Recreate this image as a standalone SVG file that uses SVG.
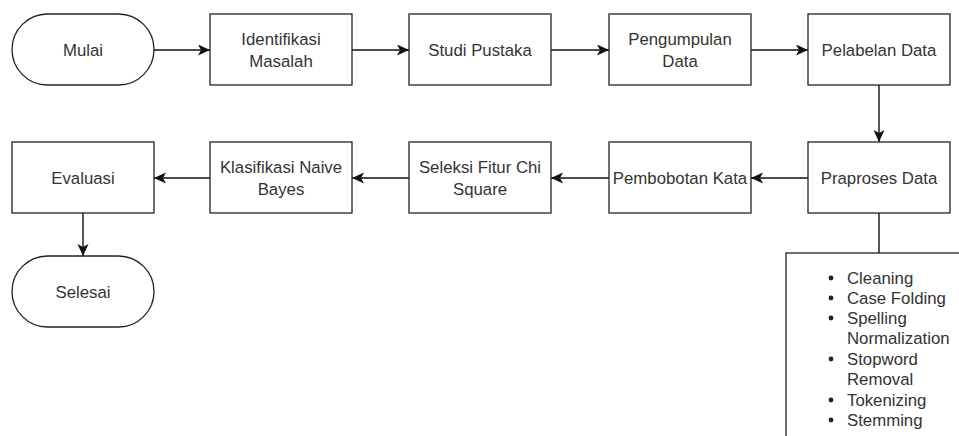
<svg xmlns="http://www.w3.org/2000/svg" width="959" height="436" viewBox="0 0 959 436">
<style>
.box{fill:#fff;stroke:#222;stroke-width:1.3}
.lbl{font-family:"Liberation Sans",Arial,sans-serif;font-size:16.8px;fill:#333;text-anchor:middle}
.li{font-family:"Liberation Sans",Arial,sans-serif;font-size:16.8px;fill:#333}
.con{fill:none;stroke:#111;stroke-width:1.4}
</style>
<defs>
<marker id="arr" markerUnits="userSpaceOnUse" markerWidth="13" markerHeight="12" refX="12" refY="5.5" orient="auto">
<path d="M0,0 L12,5.5 L0,11 L3,5.5 Z" fill="#111"/>
</marker>
</defs>
<rect width="959" height="436" fill="#fff"/>
<g id="connectors">
<line class="con" x1="154" y1="50" x2="210" y2="50" marker-end="url(#arr)"/>
<line class="con" x1="352" y1="50" x2="409" y2="50" marker-end="url(#arr)"/>
<line class="con" x1="551" y1="50" x2="609" y2="50" marker-end="url(#arr)"/>
<line class="con" x1="751" y1="50" x2="808" y2="50" marker-end="url(#arr)"/>
<line class="con" x1="879" y1="85" x2="879" y2="142" marker-end="url(#arr)"/>
<line class="con" x1="808" y1="178" x2="751" y2="178" marker-end="url(#arr)"/>
<line class="con" x1="609" y1="178" x2="551" y2="178" marker-end="url(#arr)"/>
<line class="con" x1="409" y1="178" x2="352" y2="178" marker-end="url(#arr)"/>
<line class="con" x1="210" y1="178" x2="154" y2="178" marker-end="url(#arr)"/>
<line class="con" x1="83" y1="213" x2="83" y2="256" marker-end="url(#arr)"/>
<line class="con" x1="879" y1="213" x2="879" y2="253"/>
</g>
<g id="mulai">
<rect class="box" x="12" y="14" width="142" height="71" rx="35.5" ry="35.5"/>
<text class="lbl" x="83" y="56">Mulai</text>
</g>
<g id="identifikasi">
<rect class="box" x="210" y="14" width="142" height="71"/>
<text class="lbl" x="281" y="45">Identifikasi</text>
<text class="lbl" x="281" y="67">Masalah</text>
</g>
<g id="studi">
<rect class="box" x="409" y="14" width="142" height="71"/>
<text class="lbl" x="480" y="56">Studi Pustaka</text>
</g>
<g id="pengumpulan">
<rect class="box" x="609" y="14" width="142" height="71"/>
<text class="lbl" x="680" y="45">Pengumpulan</text>
<text class="lbl" x="680" y="67">Data</text>
</g>
<g id="pelabelan">
<rect class="box" x="808" y="14" width="142" height="71"/>
<text class="lbl" x="879" y="56">Pelabelan Data</text>
</g>
<g id="praproses">
<rect class="box" x="808" y="142" width="142" height="71"/>
<text class="lbl" x="879" y="184">Praproses Data</text>
</g>
<g id="pembobotan">
<rect class="box" x="609" y="142" width="142" height="71"/>
<text class="lbl" x="680" y="184">Pembobotan Kata</text>
</g>
<g id="seleksi">
<rect class="box" x="409" y="142" width="142" height="71"/>
<text class="lbl" x="480" y="173">Seleksi Fitur Chi</text>
<text class="lbl" x="480" y="195">Square</text>
</g>
<g id="klasifikasi">
<rect class="box" x="210" y="142" width="142" height="71"/>
<text class="lbl" x="281" y="173">Klasifikasi Naive</text>
<text class="lbl" x="281" y="195">Bayes</text>
</g>
<g id="evaluasi">
<rect class="box" x="12" y="142" width="142" height="71"/>
<text class="lbl" x="83" y="184">Evaluasi</text>
</g>
<g id="selesai">
<rect class="box" x="12" y="256" width="142" height="71" rx="35.5" ry="35.5"/>
<text class="lbl" x="83" y="298">Selesai</text>
</g>
<g id="list">
<rect class="box" x="786" y="253" width="220" height="220"/>
<g fill="#222">
<circle cx="831" cy="278" r="2.4"/>
<circle cx="831" cy="298" r="2.4"/>
<circle cx="831" cy="318" r="2.4"/>
<circle cx="831" cy="359" r="2.4"/>
<circle cx="831" cy="400" r="2.4"/>
<circle cx="831" cy="420" r="2.4"/>
</g>
<text class="li" x="847" y="284">Cleaning</text>
<text class="li" x="847" y="304">Case Folding</text>
<text class="li" x="847" y="324">Spelling</text>
<text class="li" x="847" y="344">Normalization</text>
<text class="li" x="847" y="365">Stopword</text>
<text class="li" x="847" y="385">Removal</text>
<text class="li" x="847" y="406">Tokenizing</text>
<text class="li" x="847" y="426">Stemming</text>
</g>
</svg>
